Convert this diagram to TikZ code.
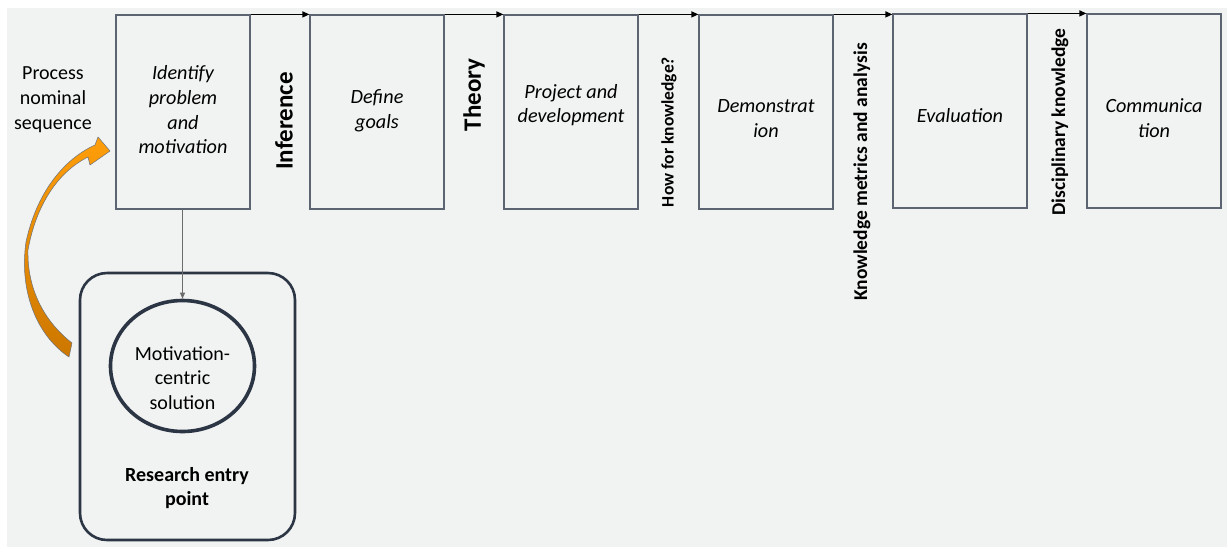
\documentclass[tikz,border=0pt]{standalone}
\usepackage{fontspec}
\setmainfont{Carlito}
\usetikzlibrary{arrows.meta,shapes.geometric}
\definecolor{bg}{HTML}{F1F2F2}
\definecolor{boxline}{HTML}{5B6470}
\definecolor{dark}{HTML}{2B3544}
\definecolor{orangeA}{HTML}{FF9E0A}
\definecolor{orangeB}{HTML}{CC7700}
\tikzset{
  stepbox/.style={draw=boxline, line width=1.2pt, minimum width=134pt, minimum height=194pt, inner sep=0pt, align=center, text width=124pt},
  bigtxt/.style={font=\fontsize{20.2}{24.7}\selectfont\itshape},
  smalltxt/.style={font=\fontsize{20.2}{25}\selectfont\itshape},
  vlabel/.style={rotate=90, font=\fontsize{19.5}{22}\selectfont\bfseries, inner sep=0pt},
  biglabel/.style={rotate=90, font=\fontsize{25}{28}\selectfont\bfseries, inner sep=0pt},
  flow/.style={draw=black, line width=1.2pt, -{Triangle[length=7pt,width=6pt]}},
}
\begin{document}
\begin{tikzpicture}[x=1pt,y=-1pt]
\useasboundingbox (0,0) rectangle (1227,547);
\fill[white] (0,0) rectangle (1227,547);
\fill[bg] (7,8) rectangle (1227,547);

\node[stepbox] (b1) at (183,112) {};
\node[stepbox] (b2) at (377,112) {};
\node[stepbox] (b3) at (571,112) {};
\node[stepbox] (b4) at (766,112) {};
\node[stepbox] (b5) at (960,111) {};
\node[stepbox] (b6) at (1154,111) {};

\node[bigtxt, align=center] (t1) at (183,110) {Identify\\problem\\and\\motivation};
\node[bigtxt, align=center] (t2) at (377,110.5) {Define\\goals};
\node[bigtxt, align=center] (t3) at (571,105) {Project and\\development};
\node[smalltxt, align=center] (t4) at (766,118.5) {Demonstrat\\ion};
\node[smalltxt, align=center] (t5) at (960,116) {Evaluation};
\node[smalltxt, align=center] (t6) at (1154,118) {Communica\\tion};

\draw[flow] (b1.north east) -- (b2.north west);
\draw[flow] (b2.north east) -- (b3.north west);
\draw[flow] (b3.north east) -- (b4.north west);
\draw[flow] (b4.north east) -- (b4.north east -| b5.west);
\draw[flow] (b5.north east) -- (b6.north west);

\node[biglabel] (l1) at (284,121) {Inference};
\node[biglabel] (l2) at (474,95) {Theory};
\node[vlabel, font=\fontsize{17.5}{20}\selectfont\bfseries] (l3) at (669,132) {How for knowledge?};
\node[vlabel] (l4) at (862,172) {Knowledge metrics and analysis};
\node[vlabel] (l5) at (1060,122) {Disciplinary knowledge};

\node[font=\fontsize{20}{25}\selectfont, align=center, inner sep=0pt] (pns) at (53,100) {Process\\nominal\\sequence};

\node[draw=dark, line width=2.6pt, rounded corners=27pt, minimum width=215pt, minimum height=267pt, inner sep=0pt] (entry) at (187.5,406.5) {};
\node[draw=dark, line width=3.6pt, ellipse, minimum width=144pt, minimum height=131pt, inner sep=0pt] (mcs) at (182.5,366) {};
\node[font=\fontsize{20}{24.5}\selectfont, align=center, inner sep=0pt] (mcst) at (182.5,378) {Motivation-\\centric\\solution};
\node[font=\fontsize{20}{24}\selectfont\bfseries, align=center, inner sep=0pt] (rep) at (187,488) {Research entry\\point};

\draw[draw=gray!85!black, line width=1pt, -{Triangle[length=6pt,width=5pt]}] (b1.south -| mcs.north) -- (mcs.north);

% orange curved arrow
\shade[top color=orangeA, bottom color=orangeB, draw=dark!70, line width=0.5pt, line join=round]
  (110,151) -- (98,137) -- (95,145)
  .. controls (62,160) and (36,195) .. (26,242)
  .. controls (19,290) and (36,335) .. (69,357)
  -- (72,343)
  .. controls (45,322) and (27,290) .. (28,250)
  .. controls (36,205) and (58,172) .. (88,157)
  -- (90,165) -- cycle;
\end{tikzpicture}
\end{document}
